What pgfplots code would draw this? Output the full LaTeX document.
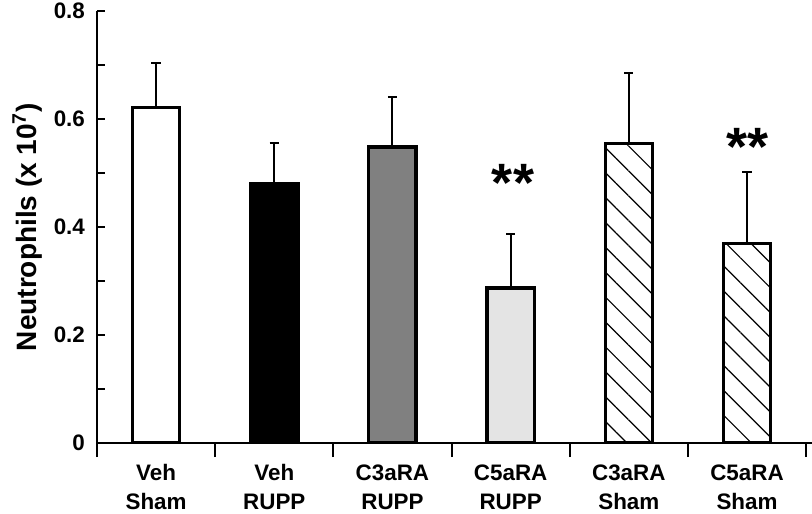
\documentclass[border=0pt]{standalone}
\usepackage{fontspec}
\setmainfont{Liberation Sans}
\usepackage{pgfplots}
\pgfplotsset{compat=1.18}
\usetikzlibrary{patterns.meta}

\begin{document}
\begin{tikzpicture}
\pgfplotsset{
  common/.style={scale only axis, width=357.5pt, height=216pt,
    xmin=-0.5, xmax=5.55, ymin=0, ymax=0.8, at={(0,0)}, anchor=south west,
    axis line style={line width=1.3pt, black},
    tick style={line width=1pt, black}},
  barbase/.style={ybar, bar width=0.4, draw=black, line width=1.6pt,
    error bars/y dir=plus, error bars/y explicit,
    error bars/error bar style={line width=1pt, black},
    error bars/error mark options={rotate=90, mark size=2.3pt, line width=1pt, black}},
}
\begin{axis}[common,
  axis x line*=bottom, axis y line*=left,
  xtick={-0.5,0.5,1.5,2.5,3.5,4.5,5.5},
  x tick label as interval,
  xticklabels={{Veh\\Sham},{Veh\\RUPP},{C3aRA\\RUPP},{C5aRA\\RUPP},{C3aRA\\Sham},{C5aRA\\Sham}},
  xticklabel style={align=center, font=\fontsize{11.2}{14.5}\selectfont\bfseries, yshift=-0.3pt},
  tick align=outside, major tick length=7pt,
  ytick=\empty,
]
\addplot[barbase, fill=white] coordinates {(0,0.622) +- (0,0.081)};
\addplot[barbase, fill=black] coordinates {(1,0.480) +- (0,0.076)};
\addplot[barbase, fill={rgb,255:red,128;green,128;blue,128}] coordinates {(2,0.548) +- (0,0.093)};
\addplot[barbase, fill={rgb,255:red,228;green,228;blue,228}] coordinates {(3,0.287) +- (0,0.100)};
\addplot[barbase, pattern={Lines[angle=-45,distance=8.8pt,line width=0.6pt]}] coordinates {(4,0.555) +- (0,0.131)};
\addplot[barbase, pattern={Lines[angle=-45,distance=8.8pt,line width=0.6pt]}] coordinates {(5,0.369) +- (0,0.133)};
\node[font=\fontsize{27}{27}\selectfont\bfseries, anchor=base] at (axis cs:3.02,0.448) {**};
\node[font=\fontsize{27}{27}\selectfont\bfseries, anchor=base] at (axis cs:5,0.513) {**};
\end{axis}
\begin{axis}[common,
  axis y line*=left, axis x line=none,
  ytick={0,0.2,0.4,0.6,0.8},
  minor y tick num=1,
  tick align=inside, major tick length=4pt, minor tick length=4pt,
  /pgf/number format/assume math mode=true,
  yticklabel style={font=\fontsize{11.2}{12}\selectfont\bfseries, xshift=-2.5pt},
  ylabel={Neutrophils (x 10\textsuperscript{7})},
  ylabel style={font=\fontsize{14}{16}\selectfont\bfseries, yshift=-1pt},
]
\end{axis}
\pgfresetboundingbox
\path[use as bounding box] (-48.5pt,-35pt) rectangle (357.5pt,221.5pt);
\end{tikzpicture}
\end{document}
